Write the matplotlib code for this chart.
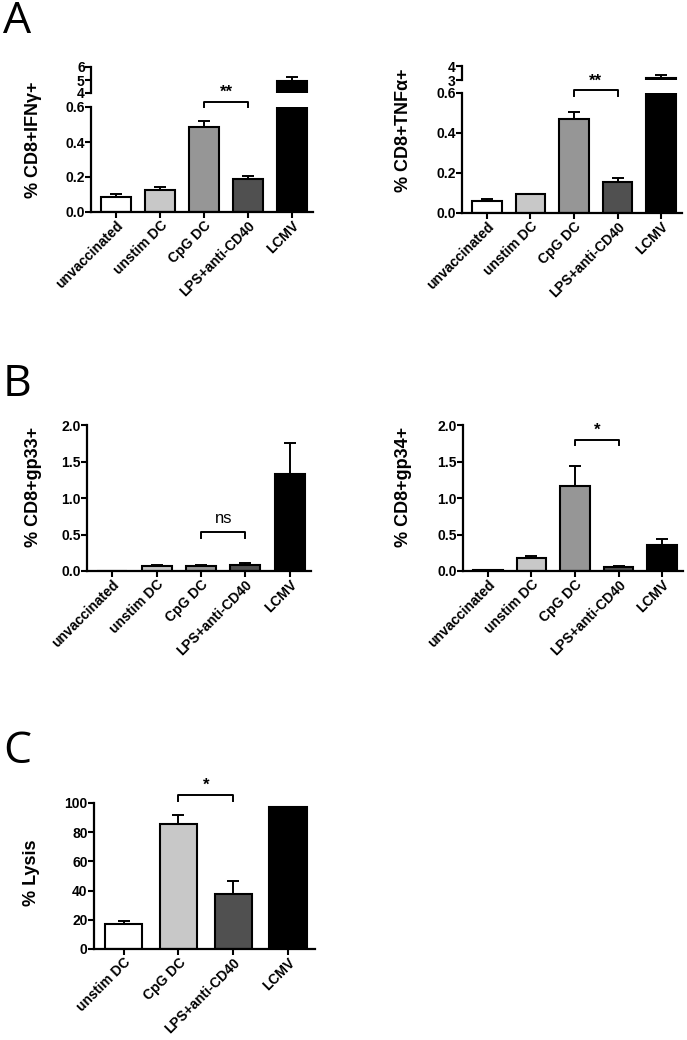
import numpy as np
import matplotlib
matplotlib.use('Agg')
from matplotlib import pyplot as plt

plt.rcParams['font.family'] = ['Liberation Sans', 'DejaVu Sans']
plt.rcParams['font.weight'] = 'bold'

# data
groups5 = ['unvaccinated', 'unstim DC', 'CpG DC', 'LPS+anti-CD40', 'LCMV']
groups4 = ['unstim DC', 'CpG DC', 'LPS+anti-CD40', 'LCMV']
colors5 = ['white', '#c8c8c8', '#969696', '#505050', 'black']
colors4 = ['white', '#c8c8c8', '#505050', 'black']

ifng = [0.083, 0.127, 0.486, 0.187, 4.95]
ifng_err = [0.019, 0.013, 0.034, 0.016, 0.25]
tnfa = [0.060, 0.093, 0.469, 0.156, 3.17]
tnfa_err = [0.011, 0.002, 0.038, 0.019, 0.19]
gp33 = [0.005, 0.069, 0.069, 0.087, 1.326]
gp33_err = [0.0, 0.011, 0.011, 0.018, 0.434]
gp34 = [0.010, 0.18, 1.164, 0.06, 0.356]
gp34_err = [0.0, 0.03, 0.274, 0.013, 0.082]
lysis = [16.9, 85.6, 38.0, 97.3]
lysis_err = [2.3, 6.2, 8.7, 0.0]

W, H = 687, 1040
fig = plt.figure(figsize=(W / 100, H / 100), dpi=100)


def px_axes(x0, x1, ytop, ybot):
    return fig.add_axes([x0 / W, 1 - ybot / H, (x1 - x0) / W, (ybot - ytop) / H])


def style(ax, bottom=True):
    for s in ['top', 'right']:
        ax.spines[s].set_visible(False)
    ax.spines['left'].set_linewidth(1.6)
    ax.spines['bottom'].set_linewidth(1.6)
    ax.tick_params(width=1.5, length=4, labelsize=10, pad=0.5)
    for lab in ax.get_yticklabels():
        lab.set_fontweight('bold')
    if not bottom:
        ax.spines['bottom'].set_visible(False)
        ax.tick_params(axis='x', bottom=False, labelbottom=False)
        ax.patch.set_visible(False)


def bars(ax, vals, errs, cols, labels, xlim):
    x = np.arange(len(vals))
    ax.bar(x, vals, width=0.68, color=cols, edgecolor='black', linewidth=1.5)
    ax.errorbar(x, vals, yerr=[np.zeros(len(errs)), errs], fmt='none',
                ecolor='black', elinewidth=1.4, capsize=4.5, capthick=1.4)
    ax.set_xlim(*xlim)
    ax.set_xticks(x)
    ax.set_xticklabels(labels, rotation=45, ha='right', rotation_mode='anchor',
                       fontsize=11, fontweight='bold')


def bracket(ax, x1, x2, y, h, txt, ty, fs=12, weight='bold'):
    ax.plot([x1, x1, x2, x2], [y - h, y, y, y - h], color='black', lw=1.4,
            clip_on=False)
    ax.text((x1 + x2) / 2, ty, txt, ha='center', va='center', fontsize=fs,
            fontweight=weight)


def ylab(x, y, txt):
    fig.text(x / W, 1 - y / H, txt, rotation=90, ha='center', va='center',
             fontsize=13, fontweight='bold')


xl5 = (-0.57, 4.48)

# A left (broken axis)
lo = px_axes(91, 313, 107, 212)
hi = px_axes(91, 313, 67, 93)
for ax in (lo, hi):
    bars(ax, ifng, ifng_err, colors5, groups5, xl5)
lo.set_ylim(0, 0.6)
lo.set_yticks([0.0, 0.2, 0.4, 0.6])
lo.set_yticklabels(['0.0', '0.2', '0.4', '0.6'])
hi.set_ylim(4, 6)
hi.set_yticks([4, 5, 6])
style(lo)
style(hi, bottom=False)
bracket(lo, 2, 3, 0.63, 0.03, '**', 0.685)
ylab(33, 140, '% CD8+IFN$\\mathregular{\\gamma}$+')

# A right (broken axis)
lo = px_axes(462, 682, 93, 213)
hi = px_axes(462, 682, 66, 80)
for ax in (lo, hi):
    bars(ax, tnfa, tnfa_err, colors5, groups5, xl5)
lo.set_ylim(0, 0.6)
lo.set_yticks([0.0, 0.2, 0.4, 0.6])
lo.set_yticklabels(['0.0', '0.2', '0.4', '0.6'])
hi.set_ylim(3, 4)
hi.set_yticks([3, 4])
style(lo)
style(hi, bottom=False)
bracket(lo, 2, 3, 0.615, 0.03, '**', 0.66)
ylab(403, 130, '% CD8+TNF$\\mathregular{\\alpha}$+')

# B left
ax = px_axes(87, 311, 425, 571)
bars(ax, gp33, gp33_err, colors5, groups5, xl5)
ax.set_ylim(0, 2.0)
ax.set_yticks([0.0, 0.5, 1.0, 1.5, 2.0])
ax.set_yticklabels(['0.0', '0.5', '1.0', '1.5', '2.0'])
style(ax)
bracket(ax, 2, 3, 0.534, 0.08, 'ns', 0.72, fs=12, weight='normal')
ylab(33, 487, '% CD8+gp33+')

# B right
ax = px_axes(463, 683, 425, 571)
bars(ax, gp34, gp34_err, colors5, groups5, xl5)
ax.set_ylim(0, 2.0)
ax.set_yticks([0.0, 0.5, 1.0, 1.5, 2.0])
ax.set_yticklabels(['0.0', '0.5', '1.0', '1.5', '2.0'])
style(ax)
bracket(ax, 2, 3, 1.79, 0.07, '*', 1.93)
ylab(403, 487, '% CD8+gp34+')

# C
ax = px_axes(94, 315, 803, 949)
bars(ax, lysis, lysis_err, colors4, groups4, (-0.54, 3.49))
ax.set_ylim(0, 100)
ax.set_yticks([0, 20, 40, 60, 80, 100])
style(ax)
bracket(ax, 1, 2, 105.5, 4, '*', 112)
ylab(32, 873, '% Lysis')

# panel letters
for letter, x, y in [('A', 3, 22), ('B', 3, 385), ('C', 3, 752)]:
    fig.text(x / W, 1 - y / H, letter, fontsize=32, fontfamily='Open Sans',
             fontweight='normal', va='center', ha='left')

fig.savefig('out.png', dpi=100)
